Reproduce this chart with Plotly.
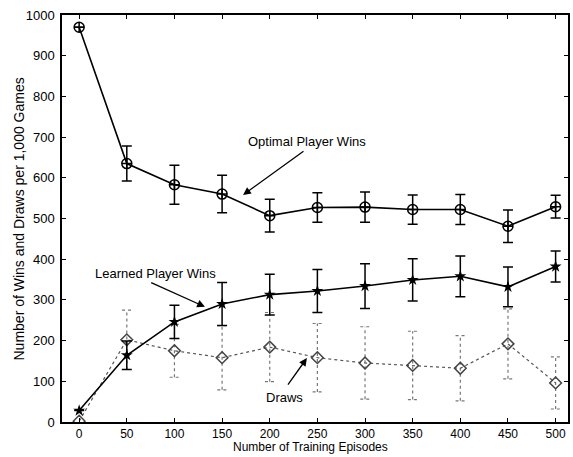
import plotly.graph_objects as go

episodes = [0, 50, 100, 150, 200, 250, 300, 350, 400, 450, 500]
optimal_wins = [970, 635, 583, 560, 507, 527, 528, 522, 522, 481, 529]
optimal_err = [0, 43, 48, 46, 40, 36, 37, 36, 37, 40, 28]
learned_wins = [28, 164, 246, 290, 313, 322, 334, 349, 358, 332, 382]
learned_err = [0, 35, 41, 53, 50, 53, 55, 52, 50, 49, 38]
draws = [2, 202, 175, 158, 184, 158, 145, 139, 132, 192, 96]
draws_err = [0, 73, 65, 79, 85, 84, 89, 84, 80, 86, 64]

FONT = "Liberation Sans, Arial, sans-serif"

fig = go.Figure()

# dotted error bars for draws, built from the data arrays
cap = 5
ex, ey = [], []
for x, y, e in zip(episodes, draws, draws_err):
    if e == 0:
        continue
    ex += [x, x, None, x - cap, x + cap, None, x - cap, x + cap, None]
    ey += [y - e, y + e, None, y - e, y - e, None, y + e, y + e, None]
fig.add_trace(go.Scatter(x=ex, y=ey, mode="lines",
                         line=dict(color="#777", width=1.2, dash="dot"),
                         hoverinfo="skip", showlegend=False))

fig.add_trace(go.Scatter(
    x=episodes, y=draws, mode="lines+markers",
    line=dict(color="#555", width=1.2, dash="dot"),
    marker=dict(symbol="diamond-open", size=9, color="#444", line=dict(width=1.5)),
    showlegend=False))

fig.add_trace(go.Scatter(
    x=episodes, y=learned_wins, mode="lines+markers",
    line=dict(color="black", width=1.6),
    marker=dict(symbol="star", size=9, color="black"),
    error_y=dict(type="data", array=learned_err, color="black", thickness=1.5, width=5),
    showlegend=False))

fig.add_trace(go.Scatter(
    x=episodes, y=optimal_wins, mode="lines+markers",
    line=dict(color="black", width=1.6),
    marker=dict(symbol="circle-cross-open", size=10, color="black", line=dict(width=1.5)),
    error_y=dict(type="data", array=optimal_err, color="black", thickness=1.5, width=5),
    showlegend=False))

arrow_kw = dict(showarrow=True, arrowhead=2, arrowsize=1.2, arrowwidth=1.3,
                arrowcolor="black", axref="x", ayref="y", xref="x", yref="y", text="")
fig.add_annotation(x=172, y=558, ax=237, ay=668, **arrow_kw)
fig.add_annotation(x=132, y=283, ax=74, ay=344, **arrow_kw)
fig.add_annotation(x=239, y=157, ax=218, ay=88, **arrow_kw)

txt_kw = dict(showarrow=False, xref="x", yref="y",
              font=dict(family=FONT, size=13, color="black"))
fig.add_annotation(x=239, y=690, text="Optimal Player Wins", **txt_kw)
fig.add_annotation(x=80, y=366, text="Learned Player Wins", **txt_kw)
fig.add_annotation(x=216, y=59, text="Draws", **txt_kw)

# axis titles
fig.add_annotation(x=0.492, y=-0.0614, xref="paper", yref="paper", showarrow=False,
                   xanchor="center", yanchor="middle", text="Number of Training Episodes",
                   font=dict(family=FONT, size=12, color="black"))
fig.add_annotation(x=-0.085, y=0.5, xref="paper", yref="paper", showarrow=False,
                   xanchor="center", yanchor="middle", textangle=-90,
                   text="Number of Wins and Draws per 1,000 Games",
                   font=dict(family=FONT, size=14, color="black"))

axis_common = dict(showgrid=False, zeroline=False, showline=True, linecolor="black",
                   linewidth=1.5, mirror="ticks", ticks="inside", ticklen=4,
                   tickcolor="black", automargin=False)

fig.update_xaxes(range=[-18, 513], tickvals=episodes,
                 tickfont=dict(family=FONT, size=12, color="black"), **axis_common)
fig.update_yaxes(range=[0, 1000], dtick=100, ticklabelstandoff=3,
                 tickfont=dict(family=FONT, size=13, color="black"), **axis_common)

fig.update_layout(width=573, height=457, margin=dict(l=62, r=5, t=15, b=35),
                  plot_bgcolor="white", paper_bgcolor="white")

fig.write_html("out.html", config={"displayModeBar": False},
               post_script="document.body.style.margin='0';")
